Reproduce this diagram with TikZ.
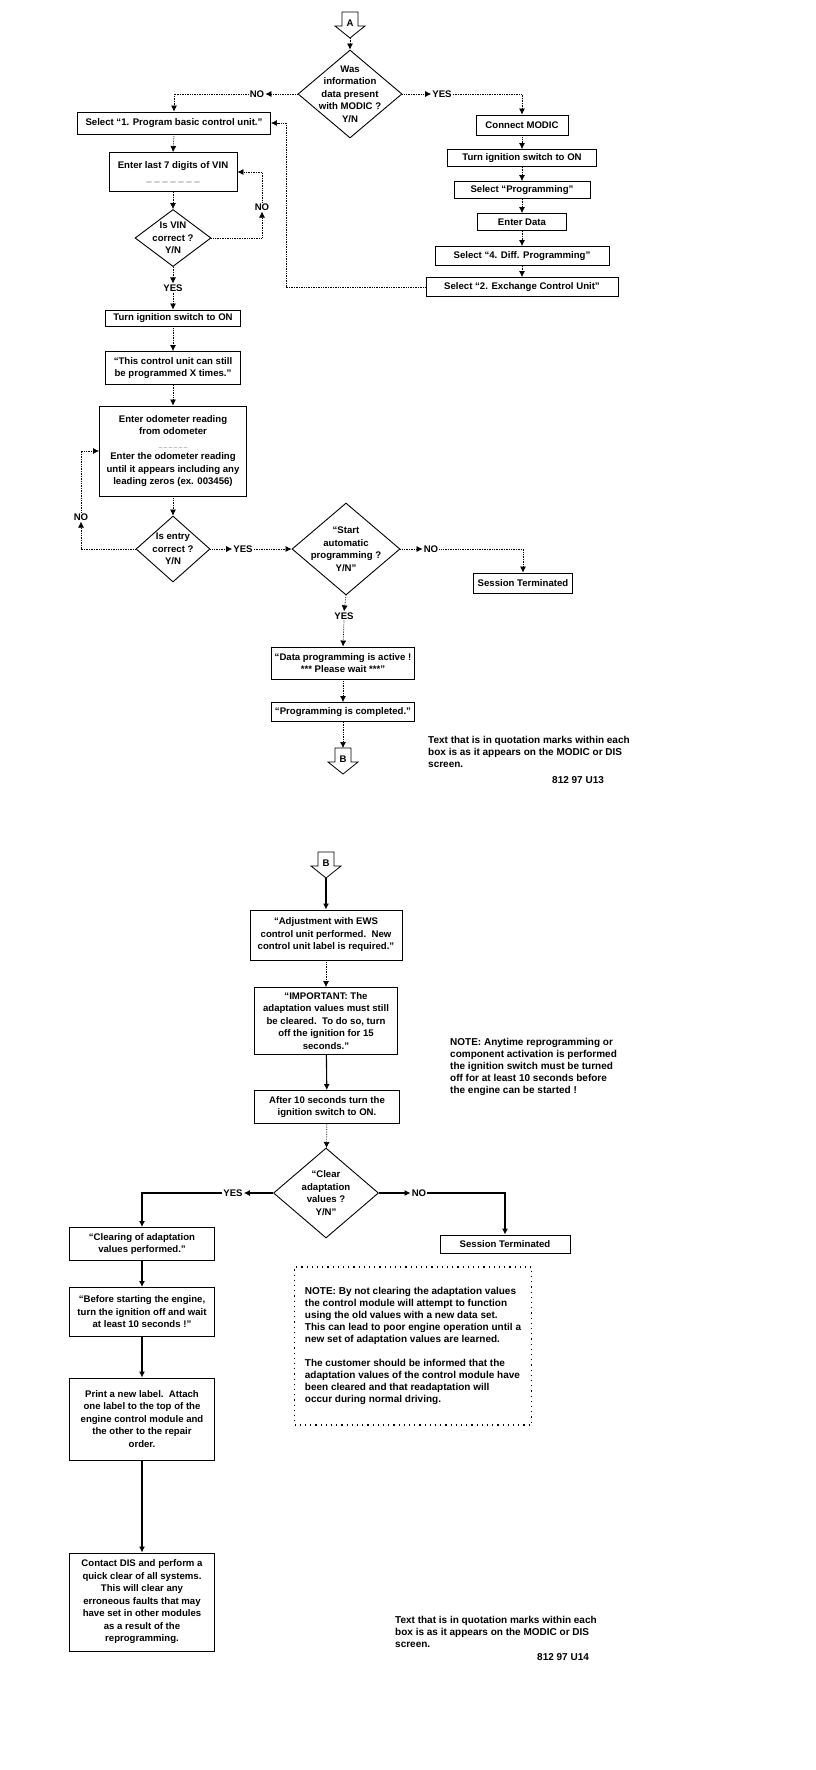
\documentclass[tikz,border=0pt]{standalone}
\usepackage{fontspec}
\setmainfont{Liberation Sans}
\usetikzlibrary{shapes.geometric,arrows.meta}
\newcommand{\boxfont}{\fontsize{9.6}{12.5}\selectfont\bfseries}
\newcommand{\notefont}{\fontsize{10}{12}\selectfont\bfseries}
\tikzset{
  stepbox/.style={draw, line width=0.9pt, inner sep=2pt, align=center, font=\boxfont},
  decision/.style={draw, diamond, line width=0.9pt, inner sep=0pt},
  answer/.style={inner sep=1pt, font=\boxfont},
  flow/.style={line width=0.7pt, densely dotted},
  flowb/.style={line width=1.1pt},
  tip/.style={-{Latex[length=6pt,width=6pt]}},
  note/.style={align=left, font=\notefont, inner sep=0pt, anchor=north west},
}
\begin{document}
\begin{tikzpicture}[x=1pt,y=-1pt]
  \path[use as bounding box, fill=white] (0,0) rectangle (816,1770);

  % off-page connectors
  \foreach \cx/\cy/\nm/\ch in {350/12/conA/A, 343/748/conB/B, 326/852/conC/B}{
    \draw[line width=0.8pt] (\cx-8,\cy) -- (\cx+8,\cy) -- (\cx+8,\cy+14) -- (\cx+15,\cy+14)
      -- (\cx,\cy+26) -- (\cx-15,\cy+14) -- (\cx-8,\cy+14) -- cycle;
    \node[font=\boxfont, inner sep=0pt] (\nm) at (\cx,\cy+11) {\ch};
    \coordinate (\nm-top) at (\cx,\cy);
    \coordinate (\nm-tip) at (\cx,\cy+26);
  }

  % ---- first chart ----
  \node[decision, minimum width=104, minimum height=88,
        label={[align=center, font=\boxfont]center:{Was\\information\\data present\\with MODIC ?\\Y/N}}] (was) at (350,94) {};
  \node[answer] (was-no) at (257,94) {NO};
  \node[answer] (was-yes) at (442,94) {YES};

  \node[stepbox, minimum width=193, minimum height=22] (sel1) at (174,123) {Select ``1. Program basic control unit.''};
  \node[stepbox, minimum width=128, minimum height=39] (vin) at (173,172) {Enter last 7 digits of VIN\\\_ \_ \_ \_ \_ \_ \_};
  \node[decision, minimum width=76, minimum height=57,
        label={[align=center, font=\boxfont]center:{Is VIN\\correct ?\\Y/N}}] (isvin) at (173,238) {};
  \node[answer] (vin-no) at (262,207) {NO};
  \node[answer] (vin-yes) at (173,288) {YES};
  \node[stepbox, minimum width=135, minimum height=16] (ign1) at (173,318) {Turn ignition switch to ON};
  \node[stepbox, minimum width=135, minimum height=33] (xtimes) at (173,368) {``This control unit can still\\be programmed X times.''};
  \node[stepbox, minimum width=147, minimum height=90] (odo) at (173,451)
    {Enter odometer reading\\from odometer\\{\fontsize{6}{7}\selectfont\_ \_ \_ \_ \_ \_}\\Enter the odometer reading\\until it appears including any\\leading zeros (ex. 003456)};
  \node[decision, minimum width=74, minimum height=66,
        label={[align=center, font=\boxfont]center:{Is entry\\correct ?\\Y/N}}] (isentry) at (173,549) {};
  \node[answer] (entry-no) at (81,517) {NO};
  \node[answer] (entry-yes) at (243,549) {YES};
  \node[decision, minimum width=108, minimum height=92,
        label={[align=center, font=\boxfont]center:{``Start\\automatic\\programming ?\\Y/N''}}] (auto) at (346,549) {};
  \node[answer] (auto-no) at (431,549) {NO};
  \node[answer] (auto-yes) at (344,616) {YES};
  \node[stepbox, minimum width=99, minimum height=20] (term1) at (523,583) {Session Terminated};
  \node[stepbox, minimum width=143, minimum height=32] (active) at (343,663) {``Data programming is active !\\*** Please wait ***''};
  \node[stepbox, minimum width=143, minimum height=19] (done) at (343,712) {``Programming is completed.''};

  \node[stepbox, minimum width=92, minimum height=20] (connect) at (522,125) {Connect MODIC};
  \node[stepbox, minimum width=149, minimum height=17] (ign2) at (522,158) {Turn ignition switch to ON};
  \node[stepbox, minimum width=136, minimum height=17] (selprog) at (522,190) {Select ``Programming''};
  \node[stepbox, minimum width=89, minimum height=17] (enterdata) at (522,222) {Enter Data};
  \node[stepbox, minimum width=174, minimum height=19] (sel4) at (522,256) {Select ``4. Diff. Programming''};
  \node[stepbox, minimum width=192, minimum height=19] (sel2) at (522,287) {Select ``2. Exchange Control Unit''};
  \coordinate (ret) at (286,287);

  \draw[flow,tip] (conA-tip) -- (was.north);
  \draw[flow,tip] (was.west) -- (was-no.east);
  \draw[flow,tip] (was-no.west) -| (sel1.north);
  \draw[flow,tip] (was.east) -- (was-yes.west);
  \draw[flow,tip] (was-yes.east) -| (connect.north);
  \foreach \a/\b in {connect/ign2, ign2/selprog, selprog/enterdata, enterdata/sel4, sel4/sel2}
    \draw[flow,tip] (\a.south) -- (\b.north);
  \draw[flow,tip] (sel2.west) -- (ret) |- (sel1.east);
  \draw[flow,tip] (sel1.south) -- (vin.north);
  \draw[flow,tip] (vin.south) -- (isvin.north);
  \draw[flow,tip] (isvin.east) -| (vin-no.south);
  \draw[flow,tip] (vin-no.north) |- (vin.east);
  \draw[flow,tip] (isvin.south) -- (vin-yes.north);
  \draw[flow,tip] (vin-yes.south) -- (ign1.north);
  \draw[flow,tip] (ign1) -- (xtimes);
  \draw[flow,tip] (xtimes) -- (odo);
  \draw[flow,tip] (odo) -- (isentry);
  \draw[flow,tip] (isentry.west) -| (entry-no.south);
  \draw[flow,tip] (entry-no.north) |- (odo.west);
  \draw[flow,tip] (isentry.east) -- (entry-yes.west);
  \draw[flow,tip] (entry-yes.east) -- (auto.west);
  \draw[flow,tip] (auto.east) -- (auto-no.west);
  \draw[flow,tip] (auto-no.east) -| (term1.north);
  \draw[flow,tip] (auto.south) -- (auto-yes.north);
  \draw[flow,tip] (auto-yes.south) -- (active.north);
  \draw[flow,tip] (active) -- (done);
  \draw[flow,tip] (done.south) -- (conB-top);

  \node[note] (quote1) at (428,736) {Text that is in quotation marks within each\\box is as it appears on the MODIC or DIS\\screen.};
  \node[font=\notefont, anchor=west, inner sep=0pt] (fig1) at (552,780) {812 97 U13};

  % ---- second chart ----
  \node[stepbox, minimum width=152, minimum height=50] (adjust) at (326,935) {``Adjustment with EWS\\control unit performed.\ \ New\\control unit label is required.''};
  \node[stepbox, minimum width=143, minimum height=67] (important) at (326,1021) {``IMPORTANT:\ The\\adaptation values must still\\be cleared.\ \ To do so, turn\\off the ignition for 15\\seconds.''};
  \node[stepbox, minimum width=145, minimum height=33] (after) at (327,1107) {After 10 seconds turn the\\ignition switch to ON.};
  \node[decision, minimum width=105, minimum height=90,
        label={[align=center, font=\boxfont]center:{``Clear\\adaptation\\values ?\\Y/N''}}] (clear) at (326,1193) {};
  \node[answer] (clear-yes) at (233,1193) {YES};
  \node[answer] (clear-no) at (419,1193) {NO};
  \node[stepbox, minimum width=130, minimum height=18] (term2) at (505,1244) {Session Terminated};
  \node[stepbox, minimum width=145, minimum height=33] (cleared) at (142,1244) {``Clearing of adaptation\\values performed.''};
  \node[stepbox, minimum width=145, minimum height=49] (before) at (142,1312) {``Before starting the engine,\\turn the ignition off and wait\\at least 10 seconds !''};
  \node[stepbox, minimum width=145, minimum height=82] (newlabel) at (142,1419) {Print a new label.\ \ Attach\\one label to the top of the\\engine control module and\\the other to the repair\\order.};
  \node[stepbox, minimum width=145, minimum height=98] (contact) at (142,1602) {Contact DIS and perform a\\quick clear of all systems.\\This will clear any\\erroneous faults that may\\have set in other modules\\as a result of the\\reprogramming.};

  \node[note] (ignnote) at (450,1038) {NOTE: Anytime reprogramming or\\component activation is performed\\the ignition switch must be turned\\off for at least 10 seconds before\\the engine can be started !};
  \node[draw, loosely dotted, line width=1.2pt, minimum width=237, minimum height=158,
        inner sep=5pt, align=left, font=\notefont] (clearnote) at (413,1346)
    {NOTE: By not clearing the adaptation values\\the control module will attempt to function\\using the old values with a new data set.\\This can lead to poor engine operation until a\\new set of adaptation values are learned.\\[12pt]The customer should be informed that the\\adaptation values of the control module have\\been cleared and that readaptation will\\occur during normal driving.};

  \draw[flowb,tip] (conC-tip) -- (adjust.north);
  \draw[flow,tip] (adjust) -- (important);
  \draw[flowb,tip] (important) -- (after);
  \draw[flow,tip] (after) -- (clear);
  \draw[flowb,tip] (clear.west) -- (clear-yes.east);
  \draw[flowb,tip] (clear-yes.west) -| (cleared.north);
  \draw[flowb,tip] (clear.east) -- (clear-no.west);
  \draw[flowb,tip] (clear-no.east) -| (term2.north);
  \draw[flowb,tip] (cleared) -- (before);
  \draw[flowb,tip] (before) -- (newlabel);
  \draw[flowb,tip] (newlabel) -- (contact);

  \node[note] (quote2) at (395,1616) {Text that is in quotation marks within each\\box is as it appears on the MODIC or DIS\\screen.};
  \node[font=\notefont, anchor=west, inner sep=0pt] (fig2) at (537,1657) {812 97 U14};
\end{tikzpicture}
\end{document}
